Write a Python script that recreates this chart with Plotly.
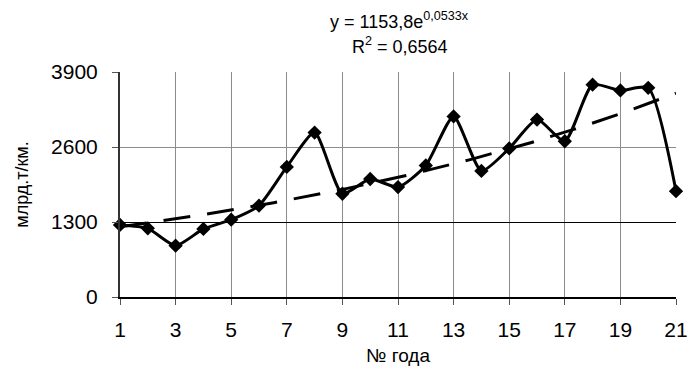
import numpy as np
import plotly.graph_objects as go

years = list(range(1, 22))
values = [1250, 1190, 890, 1180, 1340, 1585, 2255, 2850, 1790, 2045,
          1905, 2280, 3130, 2185, 2575, 3075, 2700, 3680, 3580, 3625, 1835]

trend_a = 1153.8
trend_b = 0.0533
trend_x = np.linspace(1, 21, 200)
trend_y = trend_a * np.exp(trend_b * trend_x)

x_ticks = list(range(1, 22, 2))
y_ticks = [0, 1300, 2600, 3900]

font_family = "Liberation Sans, Arial, sans-serif"

fig = go.Figure()
fig.add_trace(go.Scatter(
    x=trend_x, y=trend_y, mode="lines",
    line=dict(color="black", width=3, dash="27px,17px"),
    hoverinfo="skip", showlegend=False))
fig.add_trace(go.Scatter(
    x=years, y=values, mode="lines+markers",
    line=dict(color="black", width=3, shape="spline", smoothing=0.6),
    marker=dict(symbol="diamond", size=11, color="black"),
    cliponaxis=False, showlegend=False))
# invisible trace for the overlay axis that carries the black 1300 gridline
fig.add_trace(go.Scatter(x=[1], y=[0], yaxis="y2", mode="markers",
                         marker=dict(opacity=0), showlegend=False, hoverinfo="skip"))

fig.update_layout(
    width=700, height=376,
    margin=dict(l=120, r=13, t=72, b=79),
    paper_bgcolor="white", plot_bgcolor="white",
    font=dict(family=font_family, color="black", size=21),
    xaxis=dict(range=[1, 21], tickvals=x_ticks, ticktext=[str(v) for v in x_ticks],
               showgrid=True, gridcolor="#8c8c8c", gridwidth=1.3,
               showline=True, linecolor="black", linewidth=2,
               ticks="outside", ticklen=6, tickcolor="#555", tickwidth=1.3,
               zeroline=False, tickfont=dict(size=21), ticklabelstandoff=7,
               title=dict(text="№ года", font=dict(size=19), standoff=8)),
    yaxis=dict(range=[0, 3900], tickvals=y_ticks, ticktext=[str(v) for v in y_ticks],
               showgrid=True, gridcolor="#8c8c8c", gridwidth=1.3,
               showline=True, linecolor="#333", linewidth=2,
               ticks="outside", ticklen=6, tickcolor="#555", tickwidth=1.3,
               zeroline=False, tickfont=dict(size=21), ticklabelstandoff=10,
               title=dict(text="млрд.т/км.", font=dict(size=18), standoff=18)),
    yaxis2=dict(range=[0, 3900], overlaying="y", tickvals=[1300], showticklabels=False,
                showgrid=True, gridcolor="black", gridwidth=1, zeroline=False,
                showline=False, ticks=""),
    annotations=[
        dict(text="y = 1153,8e<sup>0,0533x</sup>", xref="paper", yref="paper",
             x=0.503, y=1, yshift=52, showarrow=False, yanchor="middle",
             font=dict(size=18)),
        dict(text="R<sup>2</sup> = 0,6564", xref="paper", yref="paper",
             x=0.503, y=1, yshift=27, showarrow=False, yanchor="middle",
             font=dict(size=18)),
    ],
)
fig.write_html("out.html")
